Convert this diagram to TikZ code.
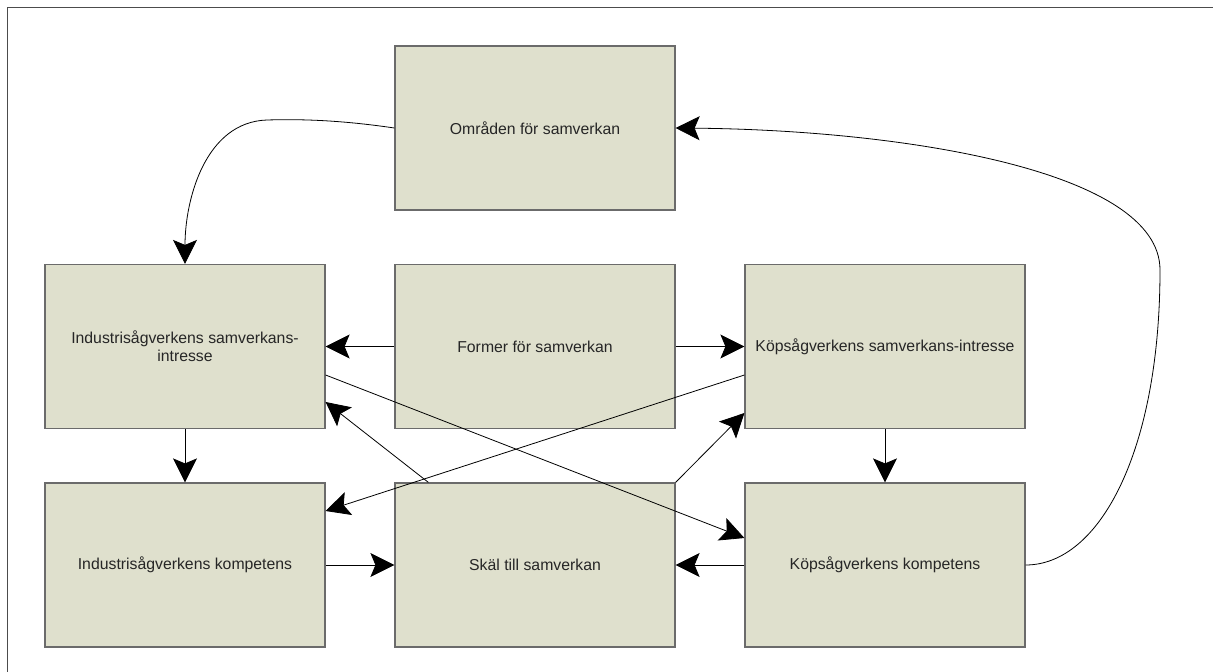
\documentclass[tikz,border=0pt]{standalone}
\usepackage{fontspec}
\setmainfont{Liberation Sans}
\usetikzlibrary{arrows.meta,calc}
\definecolor{box-fill}{HTML}{DFE0CD}
\definecolor{box-edge}{HTML}{6B6B6B}
\definecolor{text-grey}{HTML}{262626}
\tikzset{
  sawbox/.style={draw=box-edge, fill=box-fill, line width=1.2pt,
    minimum width=280pt, minimum height=164pt, inner sep=0pt,
    text=text-grey, align=center, font=\fontsize{15.8}{18}\selectfont},
  flow/.style={-{Stealth[length=24pt,width=24pt,inset=5pt]}, line width=0.8pt},
}

\begin{document}
\begin{tikzpicture}[x=1pt,y=-1pt]
\useasboundingbox (0,0) rectangle (1213,672);
\clip (0,0) rectangle (1213,672);
\draw [line width=1pt, black!70] (7.5,7.5) rectangle (1230,690);

% top row
\node [sawbox] (omraden) at (535,128) {Områden för samverkan};
% middle row
\node [sawbox] (indintresse) at (185,346.5) {Industrisågverkens samverkans-\\intresse};
\node [sawbox] (former) at (535,346.5) {Former för samverkan};
\node [sawbox] (kopintresse) at (885,346.5) {Köpsågverkens samverkans-intresse};
% bottom row
\node [sawbox] (indkomp) at (185,565) {Industrisågverkens kompetens};
\node [sawbox] (skal) at (535,565) {Skäl till samverkan};
\node [sawbox] (kopkomp) at (885,565) {Köpsågverkens kompetens};

% curved connectors
\draw [flow] (omraden.west) .. controls (340,120) and (300,119) .. (267,120)
  .. controls (205,122) and (185,200) .. (indintresse.north);
\draw [flow] (kopkomp.east) .. controls (1100,565) and (1160,450) .. (1160,270)
  .. controls (1160,170) and (900,130) .. (omraden.east);

% straight connectors
\draw [flow] (former.west) -- (indintresse.east);
\draw [flow] (former.east) -- (kopintresse.west);
\draw [flow] ($(indintresse.east)+(0,28.5)$) -- ($(kopkomp.west)+(0,-27)$);
\draw [flow] ($(kopintresse.west)+(0,28.5)$) -- ($(indkomp.east)+(0,-54)$);
\draw [flow] ($(skal.north west)+(34,0)$) -- ($(indintresse.east)+(0,55.5)$);
\draw [flow] (skal.north east) -- ($(kopintresse.west)+(0,66.5)$);
\draw [flow] (indintresse.south) -- (indkomp.north);
\draw [flow] (kopintresse.south) -- (kopkomp.north);
\draw [flow] (indkomp.east) -- (skal.west);
\draw [flow] (kopkomp.west) -- (skal.east);
\end{tikzpicture}
\end{document}
